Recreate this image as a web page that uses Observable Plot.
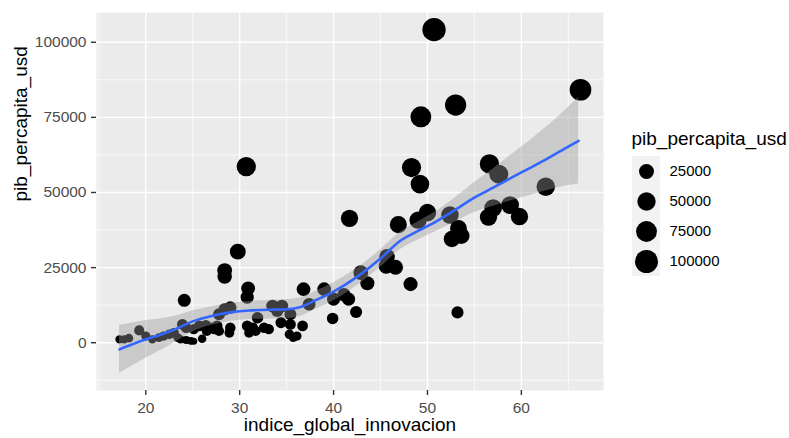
<!DOCTYPE html>
<html><head><meta charset="utf-8">
<script src="https://cdn.jsdelivr.net/npm/d3@7"></script>
<script src="https://cdn.jsdelivr.net/npm/@observablehq/plot@0.6"></script>
<style>
html,body{margin:0;padding:0;background:#fff;}
#wrap{position:relative;width:789px;height:438px;font-family:"Liberation Sans",Arial,sans-serif;}
#wrap svg{position:absolute;left:0;top:0;}
</style></head><body><div id="wrap"></div>
<script>
// Data
const indice = [17.2,17.7,18.2,19.3,20.0,20.7,21.4,21.9,22.5,23.0,
  23.4,23.9,24.3,23.7,24.3,24.8,25.1,24.1,25.1,25.7,
  26.4,26.0,27.1,27.6,26.5,27.3,27.8,28.9,29.0,27.8,
  28.4,29.0,28.4,28.4,29.8,30.9,30.8,30.7,30.8,31.4,
  31.0,31.7,31.9,32.6,33.1,33.5,34.0,34.5,34.4,35.4,
  35.4,35.3,35.7,36.1,36.7,36.8,37.4,39.0,39.9,40.0,
  41.1,41.6,41.7,42.4,42.9,43.6,45.7,45.6,46.6,48.2,
  46.9,48.3,49.2,49.0,50.0,52.4,52.6,53.6,53.3,53.2,
  56.5,57.0,58.8,59.8,56.6,57.6,62.6,50.7,53.0,49.3,66.3];
const pib = [1100,1100,1500,4100,2200,1100,1700,2200,2800,3300,
  1700,6100,5000,1100,900,600,500,14100,4500,5600,
  5800,1300,5000,5600,3900,4500,3900,3300,5000,9500,
  11100,11700,24000,22000,30300,18100,15200,58600,5600,5000,
  3300,3900,8300,5000,4500,12200,10600,12200,6700,9500,
  6100,2800,1700,2200,5600,17800,12800,17800,8100,14500,
  16000,14500,41400,10200,23300,19800,28600,25500,25100,19500,
  39300,58300,52800,40800,43300,42500,34500,35600,38000,10100,
  41800,44800,45800,42000,59500,56100,51900,104200,79100,75200,84200];

// loess smooth and its confidence band
const smoothX  = [17.2,18.5,20,21.5,23,25,27,29,31,33,35,36.5,38,40,42.5,45,47,49,51,53,55,57,59,61,63,65,66.1];
const smoothY  = [-2200,-600,1130,2600,4300,7100,8900,10100,10750,10950,11150,11900,14000,17000,21900,28000,33700,37200,40500,44300,48300,51600,55000,58300,61700,65300,67200];
const smoothLo = [-10200,-7800,-5170,-2700,-100,3600,5800,7100,7750,7850,7950,8800,11000,14000,19000,25100,30800,34200,37200,40300,43300,45400,47300,49100,50800,52300,52800];
const smoothHi = [5800,6600,7430,7900,8700,10600,12000,13100,13750,14050,14350,15000,17000,20000,24800,30900,36600,40200,43800,48300,53300,57800,62700,67500,72600,78300,81600];

const xTicks = [20,30,40,50,60];
const xMinor = [15,25,35,45,55,65];
const yTicks = [0,25000,50000,75000,100000];
const yMinor = [-12500,12500,37500,62500,87500];
const legendValues = [25000,50000,75000,100000];

const FONT = '"Liberation Sans", Arial, sans-serif';
const points = indice.map((x, i) => ({x, y: pib[i]}));
const smooth = smoothX.map((x, i) => ({x, y: smoothY[i], lo: smoothLo[i], hi: smoothHi[i]}));
const PIB_MIN = d3.min(pib), PIB_MAX = d3.max(pib);
const rScale = {type: "sqrt", domain: [0, PIB_MAX - PIB_MIN + 1], range: [3.56, 11.66]};
const rOf = v => v - PIB_MIN + 1;

const main = Plot.plot({
  width: 789, height: 438,
  marginLeft: 96, marginRight: 186, marginTop: 12, marginBottom: 48,
  style: {fontFamily: FONT, background: "transparent"},
  x: {domain: [14.75, 68.75], axis: null},
  y: {domain: [-15900, 109900], axis: null},
  r: rScale,
  marks: [
    Plot.frame({fill: "#EBEBEB", stroke: "none"}),
    Plot.gridX(xMinor, {stroke: "#fff", strokeOpacity: 1, strokeWidth: 0.7}),
    Plot.gridY(yMinor, {stroke: "#fff", strokeOpacity: 1, strokeWidth: 0.7}),
    Plot.gridX(xTicks, {stroke: "#fff", strokeOpacity: 1, strokeWidth: 1.4}),
    Plot.gridY(yTicks, {stroke: "#fff", strokeOpacity: 1, strokeWidth: 1.4}),
    Plot.axisX(xTicks, {tickSize: 5, tickPadding: 6, fontSize: 15.5, fill: "#4D4D4D", stroke: "#333333", strokeWidth: 1.4, label: null}),
    Plot.axisY(yTicks, {tickSize: 5, tickPadding: 5, fontSize: 15.5, fill: "#4D4D4D", stroke: "#333333", strokeWidth: 1.4, tickFormat: d3.format("d"), label: null}),
    Plot.dot(points, {x: "x", y: "y", r: d => rOf(d.y), fill: "black", stroke: "none"}),
    Plot.areaY(smooth, {x: "x", y1: "lo", y2: "hi", fill: "#999999", fillOpacity: 0.4, curve: "monotone-x"}),
    Plot.line(smooth, {x: "x", y: "y", stroke: "#3366FF", strokeWidth: 2.6, curve: "monotone-x"}),
    Plot.text(["indice_global_innovacion"], {text: d => d, frameAnchor: "bottom", dy: 40.5, lineAnchor: "bottom", fontSize: 19, fill: "black"}),
    Plot.text(["pib_percapita_usd"], {text: d => d, frameAnchor: "left", dx: -70, rotate: -90, lineAnchor: "bottom", fontSize: 19, fill: "black"})
  ]
});

const legend = Plot.plot({
  width: 789, height: 438, margin: 0,
  style: {fontFamily: FONT, background: "transparent"},
  x: {type: "band", domain: ["key"], range: [632, 660], padding: 0, axis: null},
  y: {type: "band", domain: legendValues, range: [154, 277], padding: 0, axis: null},
  r: rScale,
  marks: [
    Plot.cell(legendValues, {x: () => "key", y: d => d, fill: "#F2F2F2"}),
    Plot.dot(legendValues, {x: () => "key", y: d => d, r: d => rOf(d), fill: "black", stroke: "none"}),
    Plot.text(legendValues, {x: () => "key", y: d => d, text: d => String(d), dx: 23, textAnchor: "start", fontSize: 15, fill: "black"}),
    Plot.text(["pib_percapita_usd"], {text: d => d, frameAnchor: "top-left", dx: 631, dy: 144, lineAnchor: "bottom", textAnchor: "start", fontSize: 19, fill: "black"})
  ]
});

const wrap = document.getElementById("wrap");
wrap.appendChild(main);
wrap.appendChild(legend);
</script>
</body></html>
